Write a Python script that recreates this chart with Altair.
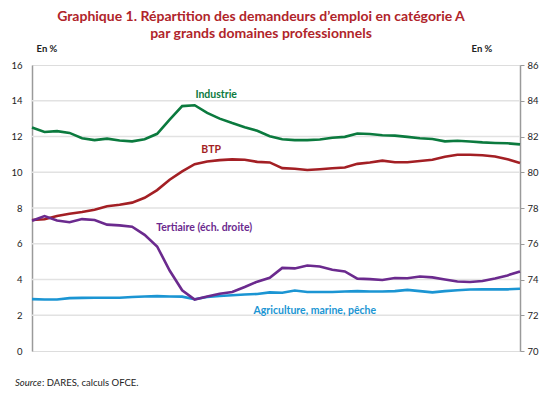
import altair as alt
import pandas as pd

# Quarterly observations, 2006 T1 .. 2015 T4
quarters = [2006 + 0.25 * i for i in range(40)]

industrie = [12.5, 12.25, 12.3, 12.2, 11.9, 11.8, 11.88, 11.78, 11.73, 11.85,
             12.15, 12.95, 13.7, 13.75, 13.32, 13.0, 12.75, 12.52, 12.32, 12.02,
             11.85, 11.8, 11.8, 11.83, 11.93, 11.98, 12.17, 12.14, 12.07, 12.05,
             11.98, 11.9, 11.86, 11.73, 11.76, 11.72, 11.67, 11.64, 11.62, 11.56]
btp = [7.33, 7.37, 7.55, 7.68, 7.78, 7.9, 8.1, 8.18, 8.3, 8.57,
       9.0, 9.58, 10.05, 10.45, 10.6, 10.68, 10.72, 10.7, 10.58, 10.55,
       10.23, 10.2, 10.13, 10.17, 10.22, 10.27, 10.47, 10.55, 10.65, 10.56,
       10.56, 10.63, 10.7, 10.87, 10.98, 10.98, 10.95, 10.88, 10.73, 10.52]
agriculture = [2.9, 2.88, 2.88, 2.96, 2.97, 2.98, 2.98, 2.98, 3.02, 3.05,
               3.07, 3.05, 3.04, 2.9, 3.02, 3.08, 3.12, 3.16, 3.19, 3.28,
               3.26, 3.38, 3.3, 3.3, 3.3, 3.33, 3.35, 3.33, 3.33, 3.35,
               3.42, 3.35, 3.28, 3.35, 3.4, 3.44, 3.45, 3.45, 3.45, 3.48]
tertiaire = [77.29, 77.55, 77.3, 77.2, 77.38, 77.33, 77.07, 77.03, 76.95, 76.5,
             75.85, 74.5, 73.4, 72.88, 73.05, 73.2, 73.3, 73.58, 73.88, 74.1,
             74.65, 74.62, 74.78, 74.73, 74.55, 74.45, 74.05, 74.02, 73.97, 74.08,
             74.07, 74.17, 74.12, 74.0, 73.89, 73.86, 73.92, 74.06, 74.23, 74.45]

series_names = ["Industrie", "BTP", "Agriculture, marine, pêche", "Tertiaire (éch. droite)"]
series_colors = ["#0B7A3E", "#A31F24", "#1B95D3", "#6B2A8E"]

label_x = [2009.68, 2009.58, 2011.65, 2009.44]
label_y = [14.32, 11.24, 2.25, 6.9]

left_ticks = [0, 2, 4, 6, 8, 10, 12, 14, 16]
right_ticks = [70, 72, 74, 76, 78, 80, 82, 84, 86]
grid_values = [2, 4, 6, 8, 10, 12, 14]
year_ticks = list(range(2006, 2016))

left_df = pd.DataFrame({
    "t": quarters * 3,
    "v": industrie + btp + agriculture,
    "serie": [series_names[0]] * 40 + [series_names[1]] * 40 + [series_names[2]] * 40,
})
right_df = pd.DataFrame({"t": quarters, "v": tertiaire, "serie": series_names[3]})
labels_df = pd.DataFrame({"t": label_x, "v": label_y, "serie": series_names})
grid_df = pd.DataFrame({"g": grid_values})
one = pd.DataFrame({"a": [0]})

FONT = "Lato"
AX = "#9A9A9A"

color_scale = alt.Scale(domain=series_names, range=series_colors)
x_enc = alt.X("t:Q", scale=alt.Scale(domain=[2006, 2015.75], nice=False, zero=False),
              axis=alt.Axis(values=year_ticks, format="d", title=None, labelAlign="left",
                            labelPadding=3, tickSize=6, tickColor=AX, domainColor=AX,
                            domainWidth=1.5, labelFont=FONT, labelFontSize=9.5,
                            labelColor="#222", grid=False, labelFlush=False))

grid = alt.Chart(grid_df).mark_rule(color="#E2E2E2", strokeWidth=1.5).encode(
    y=alt.Y("g:Q", scale=alt.Scale(domain=[0, 16]), axis=None)
)

left_lines = alt.Chart(left_df).mark_line(strokeWidth=2.6).encode(
    x=x_enc,
    y=alt.Y("v:Q", scale=alt.Scale(domain=[0, 16], nice=False),
            axis=alt.Axis(values=left_ticks, title=None, orient="left", ticks=False,
                          labelPadding=10, domainColor=AX, domainWidth=1.5, grid=False,
                          labelFont=FONT, labelFontSize=9.5, labelColor="#222")),
    color=alt.Color("serie:N", scale=color_scale, legend=None),
    detail="serie:N",
)

right_line = alt.Chart(right_df).mark_line(strokeWidth=2.6).encode(
    x=alt.X("t:Q", scale=alt.Scale(domain=[2006, 2015.75], nice=False, zero=False), axis=None),
    y=alt.Y("v:Q", scale=alt.Scale(domain=[70, 86], nice=False, zero=False),
            axis=alt.Axis(values=right_ticks, title=None, orient="right", tickSize=4,
                          tickColor=AX, labelPadding=3, domainColor=AX, domainWidth=1.5,
                          grid=False, labelFont=FONT, labelFontSize=9.5, labelColor="#222")),
    color=alt.Color("serie:N", scale=color_scale, legend=None),
)

labels = alt.Chart(labels_df).mark_text(font=FONT, fontWeight="bold", fontSize=10.5,
                                        align="center", baseline="middle").encode(
    x=alt.X("t:Q", scale=alt.Scale(domain=[2006, 2015.75], nice=False, zero=False), axis=None),
    y=alt.Y("v:Q", scale=alt.Scale(domain=[0, 16], nice=False), axis=None),
    text="serie:N",
    color=alt.Color("serie:N", scale=color_scale, legend=None),
)

def note(txt, x, y, size, weight="normal", style="normal", align="left", color="#222"):
    return alt.Chart(one).mark_text(text=txt, font=FONT, fontSize=size, fontWeight=weight,
                                    fontStyle=style, align=align, baseline="alphabetic",
                                    color=color).encode(x=alt.value(x), y=alt.value(y))

title1 = note("Graphique 1. Répartition des demandeurs d’emploi en catégorie A", 229, -44, 14,
              weight="bold", align="center", color="#B0242A")
title2 = note("par grands domaines professionnels", 229, -27, 14,
              weight="bold", align="center", color="#B0242A")
en_left = note("En %", 15, -13, 9.5, weight="bold", align="center")
en_right = note("En %", 450, -13, 9.5, weight="bold", align="center")
src1 = note("Source", -17, 321, 9.5, style="italic")
src2 = note(": DARES, calculs OFCE.", 10, 321, 9.5)

chart = alt.layer(
    grid, left_lines, right_line, labels, title1, title2, en_left, en_right, src1, src2
).resolve_scale(y="independent").properties(
    width=488, height=286,
    autosize=alt.AutoSizeParams(type="none"),
    padding={"left": 24, "top": 57, "right": 22, "bottom": 36},
).configure_view(fill="#F4F4F4", strokeWidth=0).configure(background="white")

chart.save("out.html", embed_options={"renderer": "svg", "actions": False})
